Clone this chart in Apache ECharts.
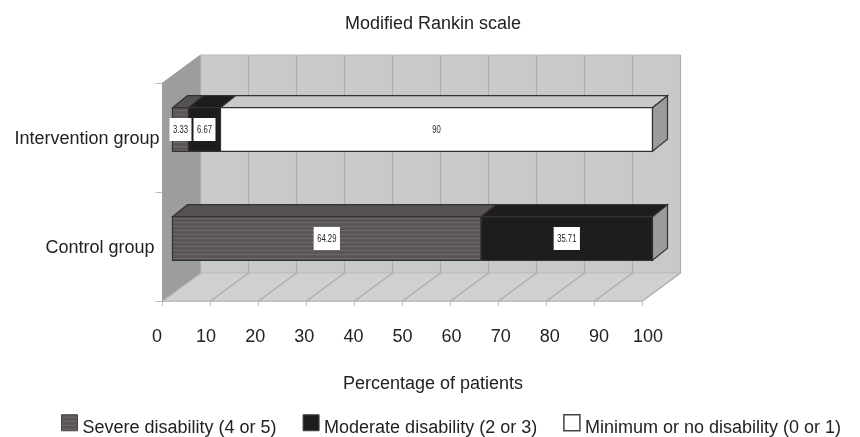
<!DOCTYPE html>
<html>
<head>
<meta charset="utf-8">
<style>html,body{margin:0;padding:0;background:#fff}#chart{width:860px;height:437px}</style>
<script src="https://cdn.jsdelivr.net/npm/echarts@6/dist/echarts.min.js"></script>
</head>
<body>
<div id="chart"></div>
<script>
const categories = ['Intervention group', 'Control group'];
const severe = [3.33, 64.29];
const moderate = [6.67, 35.71];
const minimum = [90, 0];
const xTicks = [0, 10, 20, 30, 40, 50, 60, 70, 80, 90, 100];

const FONT = '"Liberation Sans", sans-serif';
// 三维偏移
const WALL_DX = 38, WALL_DY = -28;
const BAR_DX = 10, BAR_DY = -8;
const TOP_DX = 15, TOP_DY = -12;

// 横条纹填充
function stripes() {
  const c = document.createElement('canvas');
  c.width = 4; c.height = 4;
  const ctx = c.getContext('2d');
  ctx.fillStyle = '#5a5657';
  ctx.fillRect(0, 0, 4, 4);
  ctx.fillStyle = '#6e6a6b';
  ctx.fillRect(0, 2, 4, 1);
  return { image: c, repeat: 'repeat' };
}
const stripeFill = stripes();

// 绘图区上下边界
function plotBounds(api) {
  const c = api.coord([0, 0]);
  const band = api.size([0, 1])[1];
  const top = c[1] - band / 2;
  return { top, bottom: top + band * categories.length };
}

function renderWalls(params, api) {
  const { top, bottom } = plotBounds(api);
  const left = api.coord([0, 0])[0];
  const right = api.coord([100, 0])[0];
  const poly = (points, fill, stroke) => ({
    type: 'polygon', shape: { points },
    style: { fill, stroke: stroke || fill, lineWidth: 1 },
  });
  return {
    type: 'group',
    children: [
      poly([[left + WALL_DX, top + WALL_DY], [right + WALL_DX, top + WALL_DY], [right + WALL_DX, bottom + WALL_DY], [left + WALL_DX, bottom + WALL_DY]], '#c8c9cb', '#bcbdbf'),
      poly([[left, top], [left + WALL_DX, top + WALL_DY], [left + WALL_DX, bottom + WALL_DY], [left, bottom]], '#9c9d9f'),
      poly([[left, bottom], [left + WALL_DX, bottom + WALL_DY], [right + WALL_DX, bottom + WALL_DY], [right, bottom]], '#cfd0d2', '#bcbdbf'),
    ],
  };
}

function renderGrid(params, api) {
  const { top, bottom } = plotBounds(api);
  const x = api.coord([api.value(0), 0])[0];
  const lineStyle = { stroke: '#abacae', lineWidth: 1.2 };
  return {
    type: 'group',
    children: [
      { type: 'line', shape: { x1: x + WALL_DX, y1: top + WALL_DY, x2: x + WALL_DX, y2: bottom + WALL_DY }, style: lineStyle },
      { type: 'line', shape: { x1: x, y1: bottom, x2: x + WALL_DX, y2: bottom + WALL_DY }, style: lineStyle },
    ],
  };
}

function barRenderer(fill, topFill) {
  return function (params, api) {
    const cat = api.value(0);
    const start = api.value(1);
    const end = api.value(2);
    const a = api.coord([start, cat]);
    const b = api.coord([end, cat]);
    const barH = api.size([0, 1])[1] * 0.4;
    const x1 = a[0] + BAR_DX, x2 = b[0] + BAR_DX;
    const y1 = a[1] + BAR_DY - barH / 2, y2 = y1 + barH;
    const stroke = '#333233';
    const children = [
      { type: 'polygon', shape: { points: [[x1, y1], [x1 + TOP_DX, y1 + TOP_DY], [x2 + TOP_DX, y1 + TOP_DY], [x2, y1]] }, style: { fill: topFill, stroke, lineWidth: 1.2 } },
      { type: 'rect', shape: { x: x1, y: y1, width: x2 - x1, height: barH }, style: { fill, stroke, lineWidth: 1.2 } },
    ];
    if (end >= 99.99) {
      children.push({ type: 'polygon', shape: { points: [[x2, y1], [x2 + TOP_DX, y1 + TOP_DY], [x2 + TOP_DX, y2 + TOP_DY], [x2, y2]] }, style: { fill: '#9a9b9d', stroke, lineWidth: 1.2 } });
    }
    return { type: 'group', children };
  };
}

// 窄体数字标签，放在所有条形之上
function renderLabel(params, api) {
  const cat = api.value(0);
  const a = api.coord([api.value(1), cat]);
  const b = api.coord([api.value(2), cat]);
  return {
    type: 'text',
    x: (a[0] + b[0]) / 2 + BAR_DX, y: a[1] + BAR_DY, scaleX: 0.7,
    style: {
      x: 0, y: 0,
      text: String(api.value(3)),
      align: 'center', verticalAlign: 'middle',
      font: '11px ' + FONT, fill: '#222',
      backgroundColor: '#fff', padding: [6, 5, 6, 5],
    },
  };
}

// 累计起止值
function segments(values, prevA, prevB) {
  const out = [];
  values.forEach((v, i) => {
    if (v > 0) {
      const s = (prevA ? prevA[i] : 0) + (prevB ? prevB[i] : 0);
      out.push([i, s, s + v, v]);
    }
  });
  return out;
}

const severeSeg = segments(severe);
const moderateSeg = segments(moderate, severe);
const minimumSeg = segments(minimum, severe, moderate);

const chart = echarts.init(document.getElementById('chart'), null, { renderer: 'canvas' });
chart.setOption({
  animation: false,
  backgroundColor: '#fff',
  textStyle: { fontFamily: FONT },
  title: [
    { text: 'Modified Rankin scale', left: 428, top: 10, textAlign: 'center', textStyle: { fontFamily: FONT, fontSize: 18, fontWeight: 'normal', color: '#222' } },
    { text: 'Percentage of patients', left: 428, top: 370, textAlign: 'center', textStyle: { fontFamily: FONT, fontSize: 18, fontWeight: 'normal', color: '#222' } },
  ],
  legend: {
    left: 61, top: 414, itemWidth: 16, itemHeight: 16, itemGap: 26, padding: 0, icon: 'rect',
    formatter: (name) => '{t|' + name + '}',
    textStyle: {
      fontFamily: FONT, fontSize: 18, color: '#222',
      rich: { t: { fontFamily: FONT, fontSize: 18, color: '#222', padding: [10, 0, 0, 0] } },
    },
    data: [
      { name: 'Severe disability (4 or 5)', itemStyle: { color: stripeFill, borderColor: '#444', borderWidth: 1 } },
      { name: 'Moderate disability (2 or 3)', itemStyle: { color: '#1f1c1d', borderColor: '#444', borderWidth: 1 } },
      { name: 'Minimum or no disability (0 or 1)', itemStyle: { color: '#fff', borderColor: '#444', borderWidth: 1.5 } },
    ],
  },
  grid: [
    { left: 162.5, top: 83, width: 480, height: 218 },
    { left: 157, top: 83, width: 491, height: 218 },
  ],
  xAxis: [
    {
      type: 'value', gridIndex: 0, min: 0, max: 100, interval: 10,
      axisLine: { show: true, lineStyle: { color: '#bbbcbe' } },
      axisTick: { show: true, length: 5, lineStyle: { color: '#bbbcbe' } },
      axisLabel: { show: false }, splitLine: { show: false },
    },
    {
      type: 'value', gridIndex: 1, min: 0, max: 100, interval: 10,
      axisLine: { show: false }, axisTick: { show: false }, splitLine: { show: false },
      axisLabel: { margin: 27, fontFamily: FONT, fontSize: 18, color: '#222', showMinLabel: true, showMaxLabel: true },
    },
  ],
  yAxis: [
    {
      type: 'category', gridIndex: 0, inverse: true, data: categories,
      axisLine: { show: true, lineStyle: { color: '#bbbcbe' } },
      axisTick: { show: true, length: 7, lineStyle: { color: '#bbbcbe' } },
      axisLabel: {
        margin: 3, fontFamily: FONT, fontSize: 18, color: '#222',
        formatter: (v) => (v === 'Control group' ? '{c|' + v + '}' : '{a|' + v + '}'),
        rich: {
          a: { fontFamily: FONT, fontSize: 18, color: '#222', padding: [4, 0, 0, 0] },
          c: { fontFamily: FONT, fontSize: 18, color: '#222', padding: [4, 5, 0, 0] },
        },
      },
    },
    { type: 'category', gridIndex: 1, inverse: true, data: categories, show: false },
  ],
  series: [
    { type: 'custom', name: 'walls', silent: true, z: 1, coordinateSystem: 'cartesian2d', renderItem: renderWalls, data: [[0]], encode: { x: 0 } },
    { type: 'custom', name: 'grid', silent: true, z: 2, coordinateSystem: 'cartesian2d', renderItem: renderGrid, data: xTicks.map((t) => [t]), encode: { x: 0 } },
    { type: 'custom', name: 'Severe disability (4 or 5)', z: 3, renderItem: barRenderer(stripeFill, '#565253'), data: severeSeg, encode: { x: [1, 2], y: 0 } },
    { type: 'custom', name: 'Moderate disability (2 or 3)', z: 4, renderItem: barRenderer('#1f1c1d', '#1f1c1d'), data: moderateSeg, encode: { x: [1, 2], y: 0 } },
    { type: 'custom', name: 'Minimum or no disability (0 or 1)', z: 5, renderItem: barRenderer('#fff', '#c8c9cb'), data: minimumSeg, encode: { x: [1, 2], y: 0 } },
    { type: 'custom', name: 'labels', silent: true, z: 6, renderItem: renderLabel, data: severeSeg.concat(moderateSeg, minimumSeg), encode: { x: [1, 2], y: 0 } },
  ],
});
</script>
</body>
</html>
